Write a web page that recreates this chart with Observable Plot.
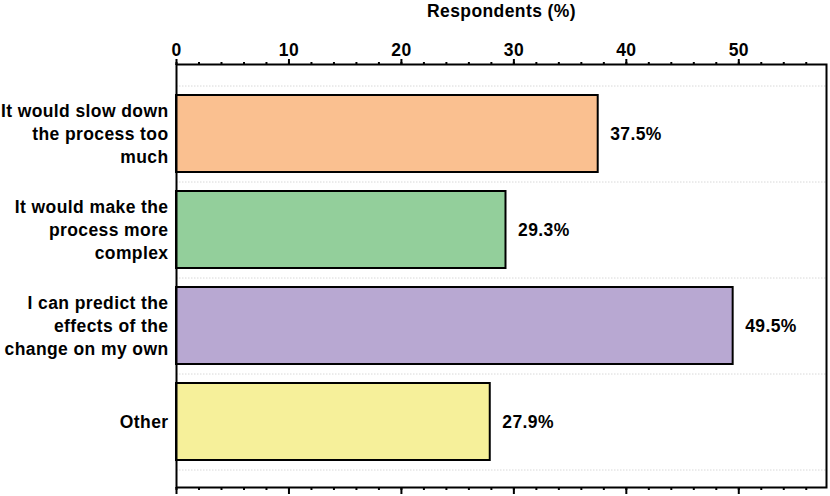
<!DOCTYPE html>
<html>
<head>
<meta charset="utf-8">
<script src="https://cdn.jsdelivr.net/npm/d3@7"></script>
<script src="https://cdn.jsdelivr.net/npm/@observablehq/plot@0.6"></script>
<style>
  html, body { margin: 0; padding: 0; background: #fff; }
</style>
</head>
<body>
<div id="chart"></div>
<script>
const categories = [
  "It would slow down the process too much",
  "It would make the process more complex",
  "I can predict the effects of the change on my own",
  "Other"
];
const tickLabels = [
  "It would slow down\nthe process too\nmuch",
  "It would make the\nprocess more\ncomplex",
  "I can predict the\neffects of the\nchange on my own",
  "Other"
];
const values = [37.5, 29.3, 49.5, 27.9];
const colors = ["#FAC090", "#93CF9B", "#B8A8D2", "#F6F09A"];
const majorTicks = [0, 10, 20, 30, 40, 50];
const minorTicks = d3.range(0, 58, 2);
const xMax = 57.8;

const data = categories.map((c, i) => ({category: c, value: values[i], color: colors[i]}));
const labelMap = new Map(categories.map((c, i) => [c, tickLabels[i]]));

const width = 830, height = 496;
const marginTop = 64, marginBottom = 9, marginLeft = 176, marginRight = 4;
const insetTop = 21, insetBottom = 18;
const step = (height - marginTop - marginBottom - insetTop - insetBottom) / categories.length;
const fs = 17.5;

const chart = Plot.plot({
  width, height,
  marginTop, marginBottom, marginLeft, marginRight,
  style: {fontFamily: "'Liberation Sans', Arial, sans-serif", fontSize: fs + "px", fontWeight: "bold", letterSpacing: "0.4px", color: "#000", background: "#fff"},
  x: {domain: [0, xMax]},
  y: {domain: categories, insetTop, insetBottom, paddingInner: 0.2, paddingOuter: 0.1},
  marks: [
    Plot.ruleY(categories, {y: d => d, dy: -step / 2, stroke: "#d8d8d8", strokeDasharray: "1.5,1.5", strokeWidth: 1}),
    Plot.ruleY(categories.slice(-1), {y: d => d, dy: step / 2, stroke: "#d8d8d8", strokeDasharray: "1.5,1.5", strokeWidth: 1}),
    Plot.barX(data, {x: "value", y: "category", fill: "color", stroke: "#000", strokeWidth: 2}),
    Plot.text(data, {x: "value", y: "category", text: d => d.value.toFixed(1) + "%", textAnchor: "start", dx: 12, fontSize: fs, fontWeight: "bold", fill: "#000"}),
    Plot.axisY({tickSize: 0, tickPadding: 8, dy: -1.5, tickFormat: d => labelMap.get(d), lineHeight: 1.3, fontSize: fs, fontWeight: "bold", label: null}),
    Plot.axisX({anchor: "top", ticks: majorTicks, tickSize: 6, tickPadding: 3, strokeWidth: 2, fontSize: fs, fontWeight: "bold", label: "Respondents (%)", labelAnchor: "center", labelOffset: 60, labelArrow: "none"}),
    Plot.axisX({anchor: "top", ticks: minorTicks, tickSize: 3, strokeWidth: 2, text: null, label: null}),
    Plot.axisX({anchor: "bottom", ticks: majorTicks, tickSize: 7, strokeWidth: 2, text: null, label: null}),
    Plot.axisX({anchor: "bottom", ticks: minorTicks, tickSize: 3, strokeWidth: 2, text: null, label: null}),
    Plot.frame({stroke: "#000", strokeWidth: 2})
  ]
});
document.getElementById("chart").appendChild(chart);
</script>
</body>
</html>
